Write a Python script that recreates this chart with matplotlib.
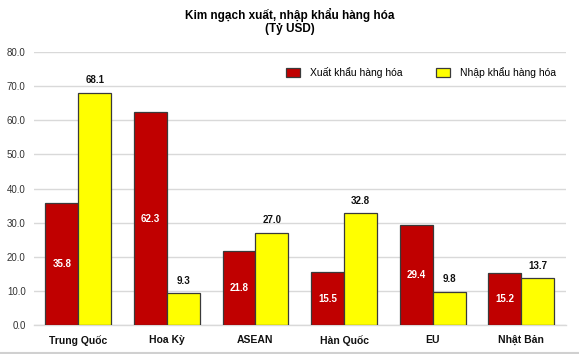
import matplotlib.pyplot as plt
import numpy as np
from matplotlib.lines import Line2D

plt.rcParams['font.family'] = ['Liberation Sans', 'DejaVu Sans']

categories = ['Trung Quốc', 'Hoa Kỳ', 'ASEAN', 'Hàn Quốc', 'EU', 'Nhật Bản']
xuat_khau = [35.8, 62.3, 21.8, 15.5, 29.4, 15.2]
nhap_khau = [68.1, 9.3, 27.0, 32.8, 9.8, 13.7]
yticks = [0, 10, 20, 30, 40, 50, 60, 70, 80]

fig = plt.figure(figsize=(5.79, 3.54), dpi=100)
ax = fig.add_axes([0.0587, 0.082, 0.918, 0.771])

x = np.arange(len(categories))
w = 0.372
b1 = ax.bar(x - w/2, xuat_khau, w, color='#c00000', edgecolor='#3a3a3a', linewidth=0.9,
            label='Xuất khẩu hàng hóa', zorder=3)
b2 = ax.bar(x + w/2, nhap_khau, w, color='#ffff00', edgecolor='#3a3a3a', linewidth=0.9,
            label='Nhập khẩu hàng hóa', zorder=3)

for xi, v in zip(x - w/2, xuat_khau):
    ax.text(xi, v/2, f'{v:.1f}', ha='center', va='center', color='white',
            fontsize=7, fontweight='bold', zorder=4)
for xi, v in zip(x + w/2, nhap_khau):
    ax.text(xi, v + 2.2, f'{v:.1f}', ha='center', va='bottom', color='#111111',
            fontsize=7, fontweight='bold', zorder=4)

ax.set_xlim(-0.5, 5.5)
ax.set_ylim(0, 80)
ax.set_yticks(yticks)
ax.set_yticklabels([f'{t:.1f}' for t in yticks], fontsize=7, color='#333333')
ax.set_xticks(x)
ax.set_xticklabels(categories, fontsize=7.5, fontweight='bold', color='#111111')
ax.tick_params(axis='both', length=0)
ax.tick_params(axis='y', pad=6)
ax.tick_params(axis='x', pad=7)
ax.grid(axis='y', color='#d9d9d9', linewidth=1, zorder=0)
for s in ['top', 'right', 'left']:
    ax.spines[s].set_visible(False)
ax.spines['bottom'].set_color('#d9d9d9')
ax.spines['bottom'].set_linewidth(1)

ax.legend(loc='upper right', bbox_to_anchor=(1.0, 0.98), ncol=2, frameon=False,
          fontsize=7.5, handlelength=1.3, handleheight=0.9, columnspacing=3.2,
          handletextpad=1.0)

fig.suptitle('Kim ngạch xuất, nhập khẩu hàng hóa\n(Tỷ USD)', fontsize=8.5,
             fontweight='bold', y=0.978, linespacing=1.15)

fig.add_artist(Line2D([0, 1], [0.004, 0.004], color='#d0d0d0', linewidth=1.5))

plt.savefig('out.png', dpi=100)
